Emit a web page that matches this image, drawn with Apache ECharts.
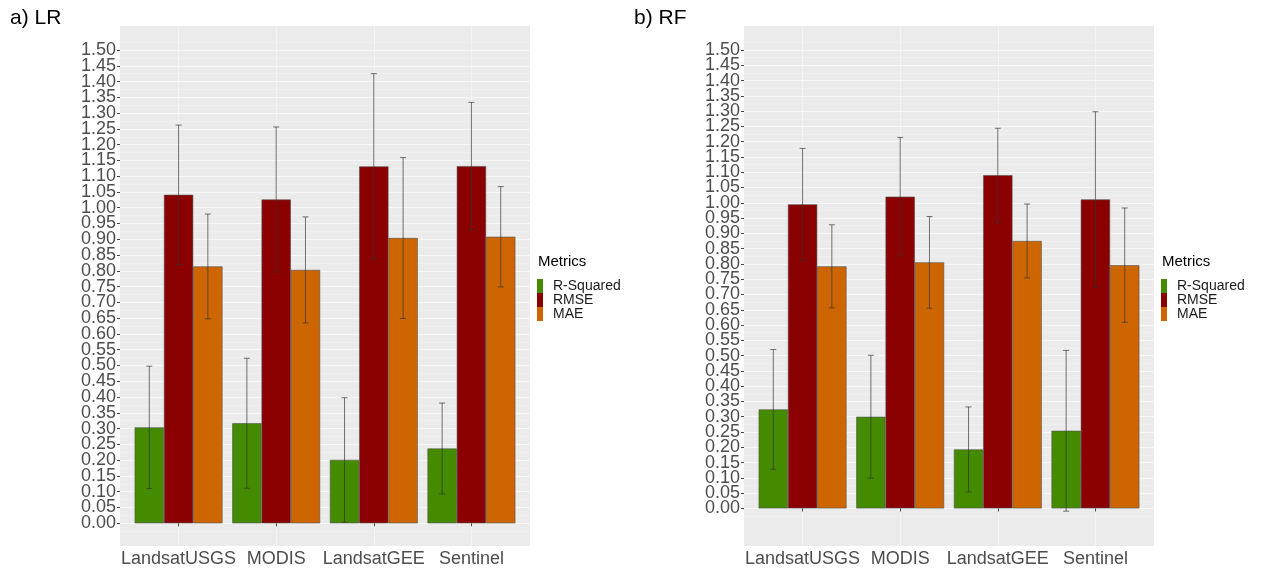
<!DOCTYPE html>
<html>
<head>
<meta charset="utf-8">
<script src="https://cdn.jsdelivr.net/npm/echarts@6/dist/echarts.min.js"></script>
<style>
html,body{margin:0;padding:0;background:#fff;}
#chart{width:1265px;height:569px;}
</style>
</head>
<body>
<div id="chart"></div>
<script>
// ---- data ----
const categories = ['LandsatUSGS', 'MODIS', 'LandsatGEE', 'Sentinel'];
const metricNames = ['R-Squared', 'RMSE', 'MAE'];

// a) LR
const lrR2 = [0.304, 0.317, 0.201, 0.237];
const lrRMSE = [1.041, 1.026, 1.131, 1.132];
const lrMAE = [0.814, 0.803, 0.904, 0.908];
const lrR2Err = [0.194, 0.206, 0.197, 0.144];
const lrRMSEErr = [0.221, 0.230, 0.294, 0.202];
const lrMAEErr = [0.166, 0.168, 0.255, 0.159];

// b) RF
const rfR2 = [0.324, 0.300, 0.193, 0.254];
const rfRMSE = [0.995, 1.020, 1.090, 1.011];
const rfMAE = [0.792, 0.805, 0.875, 0.796];
const rfR2Err = [0.196, 0.201, 0.139, 0.263];
const rfRMSEErr = [0.183, 0.194, 0.154, 0.287];
const rfMAEErr = [0.136, 0.150, 0.121, 0.187];

// tick labels
const yTicks = [0.00, 0.05, 0.10, 0.15, 0.20, 0.25, 0.30, 0.35, 0.40, 0.45, 0.50,
  0.55, 0.60, 0.65, 0.70, 0.75, 0.80, 0.85, 0.90, 0.95, 1.00,
  1.05, 1.10, 1.15, 1.20, 1.25, 1.30, 1.35, 1.40, 1.45, 1.50];
const xGridPositions = [1, 2, 3, 4];

// ---- styling / layout ----
const colors = ['#458B00', '#8B0000', '#CD6600'];
const FONT = '"Liberation Sans", Arial, sans-serif';
const panelW = 410, panelTop = 26, panelH = 520;
const unit = panelW / 4.2;
const panels = [
  { left: 120, yMin: -0.072, yMax: 1.576, vals: [lrR2, lrRMSE, lrMAE], errs: [lrR2Err, lrRMSEErr, lrMAEErr] },
  { left: 744, yMin: -0.123, yMax: 1.5785, vals: [rfR2, rfRMSE, rfMAE], errs: [rfR2Err, rfRMSEErr, rfMAEErr] }
];
const yMinor = [yTicks[0] - 0.025].concat(yTicks.slice(1).map((v, i) => (v + yTicks[i]) / 2)).concat([yTicks[yTicks.length - 1] + 0.025]);
// labels split into two interleaved sets so none get auto-hidden
const yTicksEven = yTicks.filter((v, i) => i % 2 === 0);
const yTicksOdd = yTicks.filter((v, i) => i % 2 === 1);

const labelStyle = { formatter: v => v.toFixed(2), fontSize: 18, color: '#4D4D4D', margin: 4,
  fontFamily: FONT, showMinLabel: true, showMaxLabel: true, hideOverlap: false };

const grid = [], xAxis = [], yAxis = [], series = [];
panels.forEach((p, pi) => {
  const gBg = grid.length;
  grid.push({ left: p.left, top: panelTop, width: panelW, height: panelH, show: true, backgroundColor: '#EBEBEB', borderWidth: 0 });
  const gBar = grid.length;
  grid.push({ left: p.left + 0.1 * unit, top: panelTop, width: 4 * unit, height: panelH });

  // background grid axes
  xAxis.push({ gridIndex: gBg, type: 'value', min: 0.4, max: 4.6,
    axisLine: { show: false }, axisLabel: { show: false },
    axisTick: { show: false, customValues: xGridPositions },
    splitLine: { show: true, lineStyle: { color: '#F6F6F6', width: 0.8 } } });
  yAxis.push({ gridIndex: gBg, type: 'value', min: p.yMin, max: p.yMax, position: 'left', offset: 0,
    axisLine: { show: false },
    axisTick: { show: true, length: 3, customValues: yTicks, lineStyle: { color: '#444444', width: 1 } },
    axisLabel: Object.assign({ customValues: yTicksEven }, labelStyle),
    splitLine: { show: true, lineStyle: { color: '#F8F8F8', width: 0.9 } } });
  yAxis.push({ gridIndex: gBg, type: 'value', min: p.yMin, max: p.yMax, position: 'left', offset: 0,
    axisLine: { show: false },
    axisTick: { show: false, customValues: yTicksOdd },
    axisLabel: Object.assign({ customValues: yTicksOdd }, labelStyle),
    splitLine: { show: false } });
  yAxis.push({ gridIndex: gBg, type: 'value', min: p.yMin, max: p.yMax, position: 'right',
    axisLine: { show: false }, axisLabel: { show: false },
    axisTick: { show: false, customValues: yMinor },
    splitLine: { show: true, lineStyle: { color: '#F2F2F2', width: 0.6 } } });

  // bar grid axes
  const xBar = xAxis.length;
  xAxis.push({ gridIndex: gBar, type: 'category', data: categories, boundaryGap: true,
    axisLine: { show: false },
    axisTick: { show: true, alignWithLabel: true, length: 3, lineStyle: { color: '#444444' } },
    axisLabel: { fontSize: 18, color: '#4D4D4D', margin: 4, fontFamily: FONT, interval: 0 },
    splitLine: { show: false } });
  const yBar = yAxis.length;
  yAxis.push({ gridIndex: gBar, type: 'value', min: p.yMin, max: p.yMax, show: false, splitLine: { show: false } });

  metricNames.forEach((m, mi) => {
    series.push({ name: m, type: 'bar', xAxisIndex: xBar, yAxisIndex: yBar,
      data: p.vals[mi], barGap: '0%', barCategoryGap: '10%',
      itemStyle: { color: colors[mi], borderColor: '#505050', borderWidth: 0.6 },
      z: 2, silent: true });
  });
  metricNames.forEach((m, mi) => {
    const data = categories.map((c, ci) => [ci, p.vals[mi][ci] - p.errs[mi][ci], p.vals[mi][ci] + p.errs[mi][ci]]);
    series.push({ type: 'custom', xAxisIndex: xBar, yAxisIndex: yBar, data: data, z: 5, silent: true,
      encode: { x: 0, y: [1, 2] },
      renderItem: (params, api) => {
        const x = api.value(0), lo = api.value(1), hi = api.value(2);
        const band = api.size([1, 0])[0];
        const off = (mi - 1) * 0.3 * band;
        const pHi = api.coord([x, hi]), pLo = api.coord([x, lo]);
        const cx = pHi[0] + off, cap = 3;
        const st = { stroke: '#333333', lineWidth: 0.9, opacity: 0.75 };
        return { type: 'group', children: [
          { type: 'line', shape: { x1: cx, y1: pHi[1], x2: cx, y2: pLo[1] }, style: st },
          { type: 'line', shape: { x1: cx - cap, y1: pHi[1], x2: cx + cap, y2: pHi[1] }, style: st },
          { type: 'line', shape: { x1: cx - cap, y1: pLo[1], x2: cx + cap, y2: pLo[1] }, style: st }
        ] };
      } });
  });
});

const legendBase = { data: metricNames, orient: 'vertical', top: 279, itemWidth: 6, itemHeight: 14, itemGap: 0,
  icon: 'rect', selectedMode: false, padding: 0,
  itemStyle: { borderWidth: 0 },
  textStyle: { fontSize: 14, color: '#1A1A1A', fontFamily: FONT, padding: [0, 0, 0, 5] } };

const option = {
  animation: false,
  backgroundColor: '#FFFFFF',
  textStyle: { fontFamily: FONT },
  title: [
    { text: 'a) LR', left: 10, top: 8, padding: 0, textStyle: { fontSize: 21, fontWeight: 'normal', color: '#000', fontFamily: FONT } },
    { text: 'b) RF', left: 634, top: 8, padding: 0, textStyle: { fontSize: 21, fontWeight: 'normal', color: '#000', fontFamily: FONT } },
    { text: 'Metrics', left: 538, top: 254, padding: 0, textStyle: { fontSize: 15, fontWeight: 'normal', color: '#000', fontFamily: FONT } },
    { text: 'Metrics', left: 1162, top: 254, padding: 0, textStyle: { fontSize: 15, fontWeight: 'normal', color: '#000', fontFamily: FONT } }
  ],
  legend: [
    Object.assign({}, legendBase, { left: 537 }),
    Object.assign({}, legendBase, { left: 1161 })
  ],
  grid: grid,
  xAxis: xAxis,
  yAxis: yAxis,
  series: series
};

const chart = echarts.init(document.getElementById('chart'), null, { renderer: 'canvas' });
chart.setOption(option);
</script>
</body>
</html>
